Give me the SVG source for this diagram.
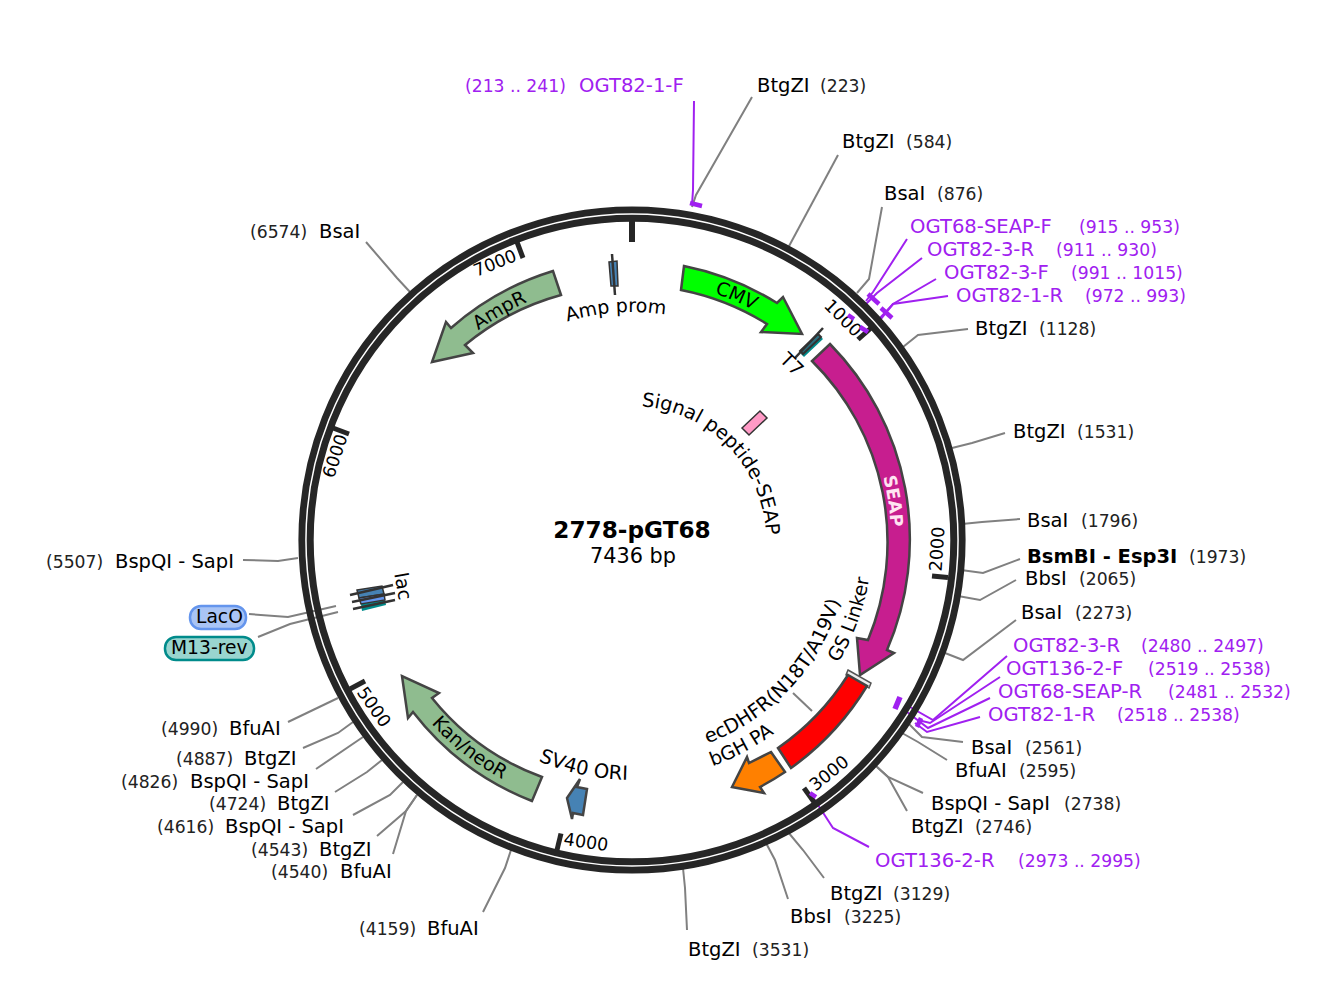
<svg xmlns="http://www.w3.org/2000/svg" width="1329" height="983" viewBox="0 0 1329 983">
<style>
text{font-family:"DejaVu Sans","Liberation Sans",sans-serif;fill:#000}
.n{font-size:19.5px}
.p{font-size:17.2px;fill:#222}
.pn{font-size:19.6px;fill:#a020f0}
.pp{font-size:17.2px;fill:#a020f0}
.f{font-size:19px}
.t{font-size:17.5px;text-anchor:middle;dominant-baseline:central}
.l{fill:none;stroke:#808080;stroke-width:2}
.q{fill:none;stroke:#a020f0;stroke-width:2}
.k{fill:none;stroke:#a020f0;stroke-width:4.5}
.m{stroke:#262626;stroke-width:5;fill:none}
.a{stroke:#444;stroke-width:2.5;stroke-linejoin:miter}
.s{stroke:#333;stroke-width:2.5;fill:none}
</style>
<defs>
<path id="pSig" d="M599.600 410A134 134 0 0 1 760.800 577"/>
<path id="pCmv" d="M600.300 282A260 260 0 0 1 840.800 385"/>
<path id="pSeap" d="M856.300 410.500A259 259 0 0 1 884.400 598.300"/>
<path id="pAmp" d="M407 410A260 260 0 0 1 632 280"/>
<path id="pAprom" d="M518 342.800A228 228 0 0 1 717.400 328.600"/>
<path id="pKan" d="M365.900 596.600A272 272 0 0 0 641.500 811.800"/>
<path id="pSv" d="M443 687.800A240 240 0 0 0 744.600 751.900"/>
<path id="pGs" d="M786.300 723.900A240 240 0 0 0 868.400 498.300"/>
<path id="pEc" d="M650.900 756.200A217 217 0 0 0 849 543.800"/>
<path id="pBgh" d="M652.900 779.100A240 240 0 0 0 818.500 691"/>
</defs>
<g id="connectors">
<polyline class="l" points="752,97 696,195 692,207"/>
<polyline class="l" points="838,155 788,248"/>
<polyline class="l" points="882,207 869,279 857,293"/>
<polyline class="l" points="968,329 918,335 903,347"/>
<polyline class="l" points="1005,433 972,443 952,448"/>
<polyline class="l" points="1020,519 982,522 962,524"/>
<polyline class="l" points="1020,559 983,573 961,570"/>
<polyline class="l" points="1016,580 980,600 958,596"/>
<polyline class="l" points="1016,620 963,660 945,653"/>
<polyline class="l" points="963,742 922,737 908,723"/>
<polyline class="l" points="947,760 918,742 902,733"/>
<polyline class="l" points="923,793 888,777 875,765"/>
<polyline class="l" points="907,811 888,777 877,767"/>
<polyline class="l" points="824,878 803,850 788,832"/>
<polyline class="l" points="788,899 775,860 766,843"/>
<polyline class="l" points="687,930 685,888 683,868"/>
<polyline class="l" points="483,912 505,868 511,850"/>
<polyline class="l" points="393,854 406,811 417,795"/>
<polyline class="l" points="377,836 406,811 417,795"/>
<polyline class="l" points="353,815 390,795 403,782"/>
<polyline class="l" points="335,792 367,772 382,760"/>
<polyline class="l" points="316,769 363,737"/>
<polyline class="l" points="303,748 338,733 353,722"/>
<polyline class="l" points="288,722 338,698"/>
<polyline class="l" points="243,560 278,561 298,558"/>
<polyline class="l" points="249,614 288,617 336,606"/>
<polyline class="l" points="258,637 290,624 338,612"/>
<polyline class="l" points="366,242 397,278 410,292"/>
<polyline class="l" points="812,711 793,693"/>
<polyline class="q" points="694,101 693,190 692,205"/>
<polyline class="q" points="907,239 873,292 866,301"/>
<polyline class="q" points="922,258 877,293 866,304"/>
<polyline class="q" points="936,279 893,304 880,318"/>
<polyline class="q" points="948,296 893,304 880,320"/>
<polyline class="q" points="1007,656 933,720 910,707"/>
<polyline class="q" points="1000,677 930,723 918,720"/>
<polyline class="q" points="990,698 928,728 907,712"/>
<polyline class="q" points="980,717 927,732 915,723"/>
<polyline class="q" points="869,847 833,828 820,808 812,796"/>
</g>
<g id="plasmid-ring">
<circle cx="632" cy="540" r="330.200" fill="none" stroke="#262626" stroke-width="6.800"/>
<circle cx="632" cy="540" r="321.800" fill="none" stroke="#262626" stroke-width="7"/>
</g>
<g id="ticks">
<line class="m" style="stroke-width:6" x1="632" y1="221" x2="632" y2="242"/>
<line class="m" x1="858" y1="339.500" x2="871" y2="328"/>
<line class="m" x1="932" y1="576" x2="948" y2="577.600"/>
<line class="m" x1="804" y1="788" x2="814" y2="802"/>
<line class="m" x1="561" y1="833.500" x2="557" y2="850"/>
<line class="m" x1="365" y1="681" x2="350" y2="689"/>
<line class="m" x1="349" y1="434" x2="333" y2="428"/>
<line class="m" x1="523" y1="258" x2="517" y2="242"/>
<text class="t" transform="translate(843,318) rotate(45)">1000</text>
<text class="t" transform="translate(937,549) rotate(-86)">2000</text>
<text class="t" transform="translate(829,773) rotate(-39)">3000</text>
<text class="t" transform="translate(586,842) rotate(8)">4000</text>
<text class="t" transform="translate(374,707) rotate(55)">5000</text>
<text class="t" transform="translate(335,456) rotate(-72)">6000</text>
<text class="t" transform="translate(495,263) rotate(-22)">7000</text>
</g>
<g id="primer-ticks">
<line class="k" x1="690" y1="203" x2="702" y2="206"/>
<line class="k" x1="868" y1="294" x2="879" y2="304"/>
<line class="k" x1="881" y1="308" x2="892" y2="318"/>
<line class="k" x1="848" y1="315" x2="854" y2="319"/>
<line class="k" x1="860" y1="327" x2="868" y2="332"/>
<line class="k" style="stroke-width:5.500" x1="900" y1="697" x2="895" y2="709"/>
<line class="k" x1="921" y1="718" x2="917" y2="727"/>
<line class="k" x1="810" y1="793" x2="816" y2="797"/>
</g>
<g id="CMV"><path class="a" fill="#00ff00" d="M684 266A279 279 0 0 1 777 303L783 297L802 334L761 332L767 324A255 255 0 0 0 681 290Z"/><text class="f"><textPath href="#pCmv" startOffset="50%" text-anchor="middle">CMV</textPath></text></g>
<g id="T7"><path fill="#008b8b" d="M801 354L820 336L823 339L804 357Z"/><path stroke="#333" stroke-width="2" fill="#2a6f7f" d="M800 351L818 334L821 337L803 354Z"/><line class="s" x1="795" y1="358" x2="823" y2="328"/><text class="f" transform="translate(792,364) rotate(45)" text-anchor="middle" dominant-baseline="central">T7</text></g>
<g id="SEAP"><path class="a" fill="#c71e8f" d="M830 344A279 279 0 0 1 887 650L894 653L860 675L857 638L868 640A255 255 0 0 0 812 361Z"/><text font-size="17.500" font-weight="700" style="fill:#ffe4f2"><textPath href="#pSeap" startOffset="50%" text-anchor="middle">SEAP</textPath></text></g>
<g id="Signal-peptide-SEAP"><path stroke="#333" stroke-width="1.500" fill="#ff9ac6" d="M742 428L760 411L767 418L749 435Z"/><text style="font-size:19.400px"><textPath href="#pSig" startOffset="50%" text-anchor="middle">Signal peptide-SEAP</textPath></text></g>
<g id="GS-Linker"><path stroke="#555" stroke-width="1.500" fill="#eee" d="M848 670L871 683L869 688L846 675Z"/><text class="f"><textPath href="#pGs" startOffset="50%" text-anchor="middle">GS Linker</textPath></text></g>
<g id="ecDHFR"><path class="a" fill="#ff0000" d="M848 675L867 686A279 279 0 0 1 791 768L778 748A255 255 0 0 0 848 675Z"/><text style="font-size:19.500px"><textPath href="#pEc" startOffset="50%" text-anchor="middle">ecDHFR(N18T/A19V)</textPath></text></g>
<g id="bGH-PA"><path class="a" fill="#ff8000" d="M771 752L785 772A279 279 0 0 1 760 787L764 793L732 787L747 757L749 763Z"/><text class="f"><textPath href="#pBgh" startOffset="50%" text-anchor="middle">bGH PA</textPath></text></g>
<g id="SV40-ORI"><path class="a" fill="#4682b4" d="M580 779L577 787L587 789L583 815L573 813L572 819L567 798Z"/><text style="font-size:19.600px"><textPath href="#pSv" startOffset="50%" text-anchor="middle">SV40 ORI</textPath></text></g>
<g id="Kan-neoR"><path class="a" fill="#8fbc8f" d="M542 777A253 253 0 0 1 432 698L439 693L402 676L408 718L413 712A279 279 0 0 0 532 801Z"/><text class="f"><textPath href="#pKan" startOffset="50%" text-anchor="middle">Kan/neoR</textPath></text></g>
<g id="lac"><path fill="#008b8b" d="M361 604L385 600L386 605L362 611Z"/><path stroke="#333" stroke-width="1.500" fill="#4682b4" d="M357 590L382 586L384 594L359 598Z"/><path stroke="#333" stroke-width="1.500" fill="#6495ed" d="M359 598L384 594L385 600L361 604Z"/><line class="s" x1="350" y1="595" x2="393" y2="585"/><line class="s" x1="352" y1="602" x2="395" y2="593"/><line class="s" x1="353" y1="609" x2="395" y2="600"/><text class="f" transform="translate(403.500,586) rotate(80)" text-anchor="middle" dominant-baseline="central">lac</text></g>
<g id="LacO"><rect x="190" y="606" width="56" height="23" rx="11" fill="#a9c4f5" stroke="#6495ed" stroke-width="2.500"/><text x="196" y="623" font-size="18.700">LacO</text></g>
<g id="M13-rev"><rect x="165" y="637" width="89" height="23" rx="11" fill="#99d5cf" stroke="#008b8b" stroke-width="2.500"/><text x="171" y="654" font-size="18.700">M13-rev</text></g>
<g id="Amp-prom"><path stroke="#333" stroke-width="1.500" fill="#4682b4" d="M609 262L617 261L618 286L611 286Z"/><line class="s" x1="612" y1="254" x2="615" y2="295"/><text class="f"><textPath href="#pAprom" startOffset="50%" text-anchor="middle">Amp prom</textPath></text></g>
<g id="AmpR"><path class="a" fill="#8fbc8f" d="M553 271A279 279 0 0 0 451 328L446 322L432 362L473 353L465 345A256 256 0 0 1 561 295Z"/><text class="f"><textPath href="#pAmp" startOffset="50%" text-anchor="middle">AmpR</textPath></text></g>
<g id="title"><text x="632" y="538" text-anchor="middle" font-size="23.200" font-weight="700">2778-pGT68</text><text x="633" y="563" text-anchor="middle" font-size="20.800">7436 bp</text></g>
<g id="labels">
<text class="pp" x="465" y="92">(213 .. 241)</text><text class="pn" x="579" y="92">OGT82-1-F</text>
<text class="n" x="757" y="92">BtgZI</text><text class="p" x="820" y="92">(223)</text>
<text class="n" x="842" y="148">BtgZI</text><text class="p" x="906" y="148">(584)</text>
<text class="n" x="884" y="200">BsaI</text><text class="p" x="937" y="200">(876)</text>
<text class="pn" x="910" y="233">OGT68-SEAP-F</text><text class="pp" x="1079" y="233">(915 .. 953)</text>
<text class="pn" x="927" y="256">OGT82-3-R</text><text class="pp" x="1056" y="256">(911 .. 930)</text>
<text class="pn" x="944" y="279">OGT82-3-F</text><text class="pp" x="1071" y="279">(991 .. 1015)</text>
<text class="pn" x="956" y="302">OGT82-1-R</text><text class="pp" x="1085" y="302">(972 .. 993)</text>
<text class="n" x="975" y="335">BtgZI</text><text class="p" x="1039" y="335">(1128)</text>
<text class="n" x="1013" y="438">BtgZI</text><text class="p" x="1077" y="438">(1531)</text>
<text class="n" x="1027" y="527">BsaI</text><text class="p" x="1081" y="527">(1796)</text>
<text class="n" x="1027" y="563" font-weight="700">BsmBI - Esp3I</text><text class="p" x="1189" y="563">(1973)</text>
<text class="n" x="1025" y="585">BbsI</text><text class="p" x="1079" y="585">(2065)</text>
<text class="n" x="1021" y="619">BsaI</text><text class="p" x="1075" y="619">(2273)</text>
<text class="pn" x="1013" y="652">OGT82-3-R</text><text class="pp" x="1141" y="652">(2480 .. 2497)</text>
<text class="pn" x="1006" y="675">OGT136-2-F</text><text class="pp" x="1148" y="675">(2519 .. 2538)</text>
<text class="pn" x="998" y="698">OGT68-SEAP-R</text><text class="pp" x="1168" y="698">(2481 .. 2532)</text>
<text class="pn" x="988" y="721">OGT82-1-R</text><text class="pp" x="1117" y="721">(2518 .. 2538)</text>
<text class="n" x="971" y="754">BsaI</text><text class="p" x="1025" y="754">(2561)</text>
<text class="n" x="955" y="777">BfuAI</text><text class="p" x="1019" y="777">(2595)</text>
<text class="n" x="931" y="810">BspQI - SapI</text><text class="p" x="1064" y="810">(2738)</text>
<text class="n" x="911" y="833">BtgZI</text><text class="p" x="975" y="833">(2746)</text>
<text class="pn" x="875" y="867">OGT136-2-R</text><text class="pp" x="1018" y="867">(2973 .. 2995)</text>
<text class="n" x="830" y="900">BtgZI</text><text class="p" x="893" y="900">(3129)</text>
<text class="n" x="790" y="923">BbsI</text><text class="p" x="844" y="923">(3225)</text>
<text class="n" x="688" y="956">BtgZI</text><text class="p" x="752" y="956">(3531)</text>
<text class="p" x="359" y="935">(4159)</text><text class="n" x="427" y="935">BfuAI</text>
<text class="p" x="271" y="878">(4540)</text><text class="n" x="340" y="878">BfuAI</text>
<text class="p" x="251" y="856">(4543)</text><text class="n" x="319" y="856">BtgZI</text>
<text class="p" x="157" y="833">(4616)</text><text class="n" x="225" y="833">BspQI - SapI</text>
<text class="p" x="209" y="810">(4724)</text><text class="n" x="277" y="810">BtgZI</text>
<text class="p" x="121" y="788">(4826)</text><text class="n" x="190" y="788">BspQI - SapI</text>
<text class="p" x="176" y="765">(4887)</text><text class="n" x="244" y="765">BtgZI</text>
<text class="p" x="161" y="735">(4990)</text><text class="n" x="229" y="735">BfuAI</text>
<text class="p" x="46" y="568">(5507)</text><text class="n" x="115" y="568">BspQI - SapI</text>
<text class="p" x="250" y="238">(6574)</text><text class="n" x="319" y="238">BsaI</text>
</g>
</svg>
